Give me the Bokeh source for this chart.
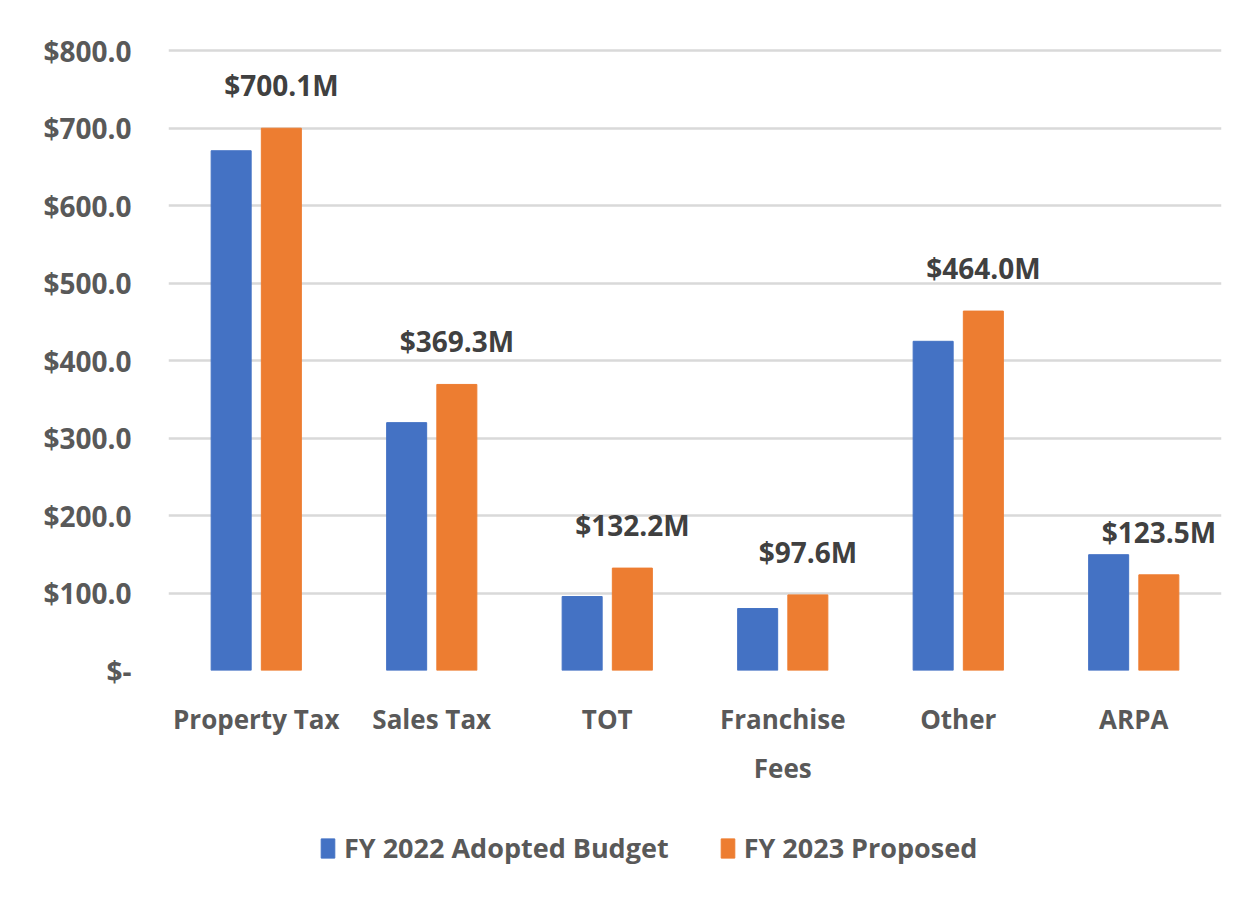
from bokeh.plotting import figure
from bokeh.layouts import column
from bokeh.models import (ColumnDataSource, Range1d, Legend, LegendItem,
                          FixedTicker, LinearAxis)
from bokeh.transform import dodge
from bokeh.embed import file_html
from bokeh.resources import INLINE
from bokeh.core.properties import value

categories = ["Property Tax", "Sales Tax", "TOT", "Franchise Fees", "Other", "ARPA"]
label_line1 = ["Property Tax", "Sales Tax", "TOT", "Franchise", "Other", "ARPA"]
label_line2 = ["", "", "", "Fees", "", ""]
fy2022 = [671.0, 320.0, 95.5, 80.0, 425.0, 149.5]
fy2023 = [700.1, 369.3, 132.2, 97.6, 464.0, 123.5]
labels_2023 = ["$700.1M", "$369.3M", "$132.2M", "$97.6M", "$464.0M", "$123.5M"]
y_ticks = [0, 100, 200, 300, 400, 500, 600, 700, 800]
y_tick_labels = ["$-", "$100.0", "$200.0", "$300.0", "$400.0", "$500.0", "$600.0", "$700.0", "$800.0"]
series_names = ["FY 2022 Adopted Budget", "FY 2023 Proposed"]

BLUE = "#4472C4"
ORANGE = "#ED7D31"
FONT = "Open Sans"
GREY = "#595959"
W = 1239

# category slot centres on a numeric axis (one unit per category)
centres = [i + 0.5 for i in range(len(categories))]
src = ColumnDataSource(dict(x=centres, cat=categories, a=fy2022, b=fy2023, lab=labels_2023))

p = figure(x_range=Range1d(0, len(categories)), y_range=Range1d(0, 803),
           width=W, height=800, output_backend="svg", toolbar_location=None,
           min_border_left=168, min_border_right=18, min_border_top=48, min_border_bottom=130)
p.outline_line_color = None
p.xgrid.grid_line_color = None
p.ygrid.grid_line_color = "#d9d9d9"
p.ygrid.grid_line_width = 2.5

r1 = p.vbar(x=dodge("x", -0.143), top="a", width=0.228, source=src,
            fill_color=BLUE, line_color=BLUE)
r2 = p.vbar(x=dodge("x", 0.143), top="b", width=0.228, source=src,
            fill_color=ORANGE, line_color=ORANGE)

p.text(x=dodge("x", 0.143), y="b", text="lab", source=src,
       y_offset=-24, text_align="center", text_baseline="bottom",
       text_font=value(FONT), text_font_style="bold", text_font_size="28px",
       text_color="#404040")

p.yaxis.ticker = FixedTicker(ticks=y_ticks)
p.yaxis.major_label_overrides = {t: l for t, l in zip(y_ticks, y_tick_labels)}
p.yaxis.axis_line_color = None
p.yaxis.major_tick_line_color = None
p.yaxis.minor_tick_line_color = None
p.yaxis.major_tick_out = 0
p.yaxis.major_tick_in = 0
p.yaxis.major_label_standoff = 37
p.yaxis.major_label_text_font = FONT
p.yaxis.major_label_text_font_style = "bold"
p.yaxis.major_label_text_font_size = "28px"
p.yaxis.major_label_text_color = GREY

p.xaxis.visible = False


def label_axis(labels, standoff):
    ticks = [c for c, l in zip(centres, labels) if l]
    ax = LinearAxis(ticker=FixedTicker(ticks=ticks))
    ax.major_label_overrides = {c: l for c, l in zip(centres, labels) if l}
    ax.axis_line_color = None
    ax.major_tick_line_color = None
    ax.minor_tick_line_color = None
    ax.major_tick_out = 0
    ax.major_tick_in = 0
    ax.major_label_standoff = standoff
    ax.major_label_text_font = FONT
    ax.major_label_text_font_style = "bold"
    ax.major_label_text_font_size = "26px"
    ax.major_label_text_color = GREY
    return ax


p.add_layout(label_axis(label_line1, 30), "below")
p.add_layout(label_axis(label_line2, 10), "below")

# legend strip (its swatch renderers hold one bar placed below the visible range)
lg = figure(width=W, height=91, output_backend="svg", toolbar_location=None,
            x_range=Range1d(0, 1), y_range=Range1d(0, 1),
            x_axis_type=None, y_axis_type=None,
            min_border=0, outline_line_color=None)
e1 = lg.vbar(x=[0.5], bottom=[-6], top=[-5], width=0.1, fill_color=BLUE, line_color=BLUE)
e2 = lg.vbar(x=[0.5], bottom=[-6], top=[-5], width=0.1, fill_color=ORANGE, line_color=ORANGE)
legend = Legend(items=[LegendItem(label=series_names[0], renderers=[e1]),
                       LegendItem(label=series_names[1], renderers=[e2])],
                location=(151, 25), orientation="horizontal",
                glyph_width=17, glyph_height=24, label_standoff=8, spacing=50,
                padding=0, margin=0, border_line_color=None, background_fill_alpha=0,
                label_text_font=FONT, label_text_font_style="bold",
                label_text_font_size="27px", label_text_color=GREY)
lg.add_layout(legend, "center")

page = column(p, lg, spacing=0)
open("out.html", "w").write(file_html(page, INLINE))
